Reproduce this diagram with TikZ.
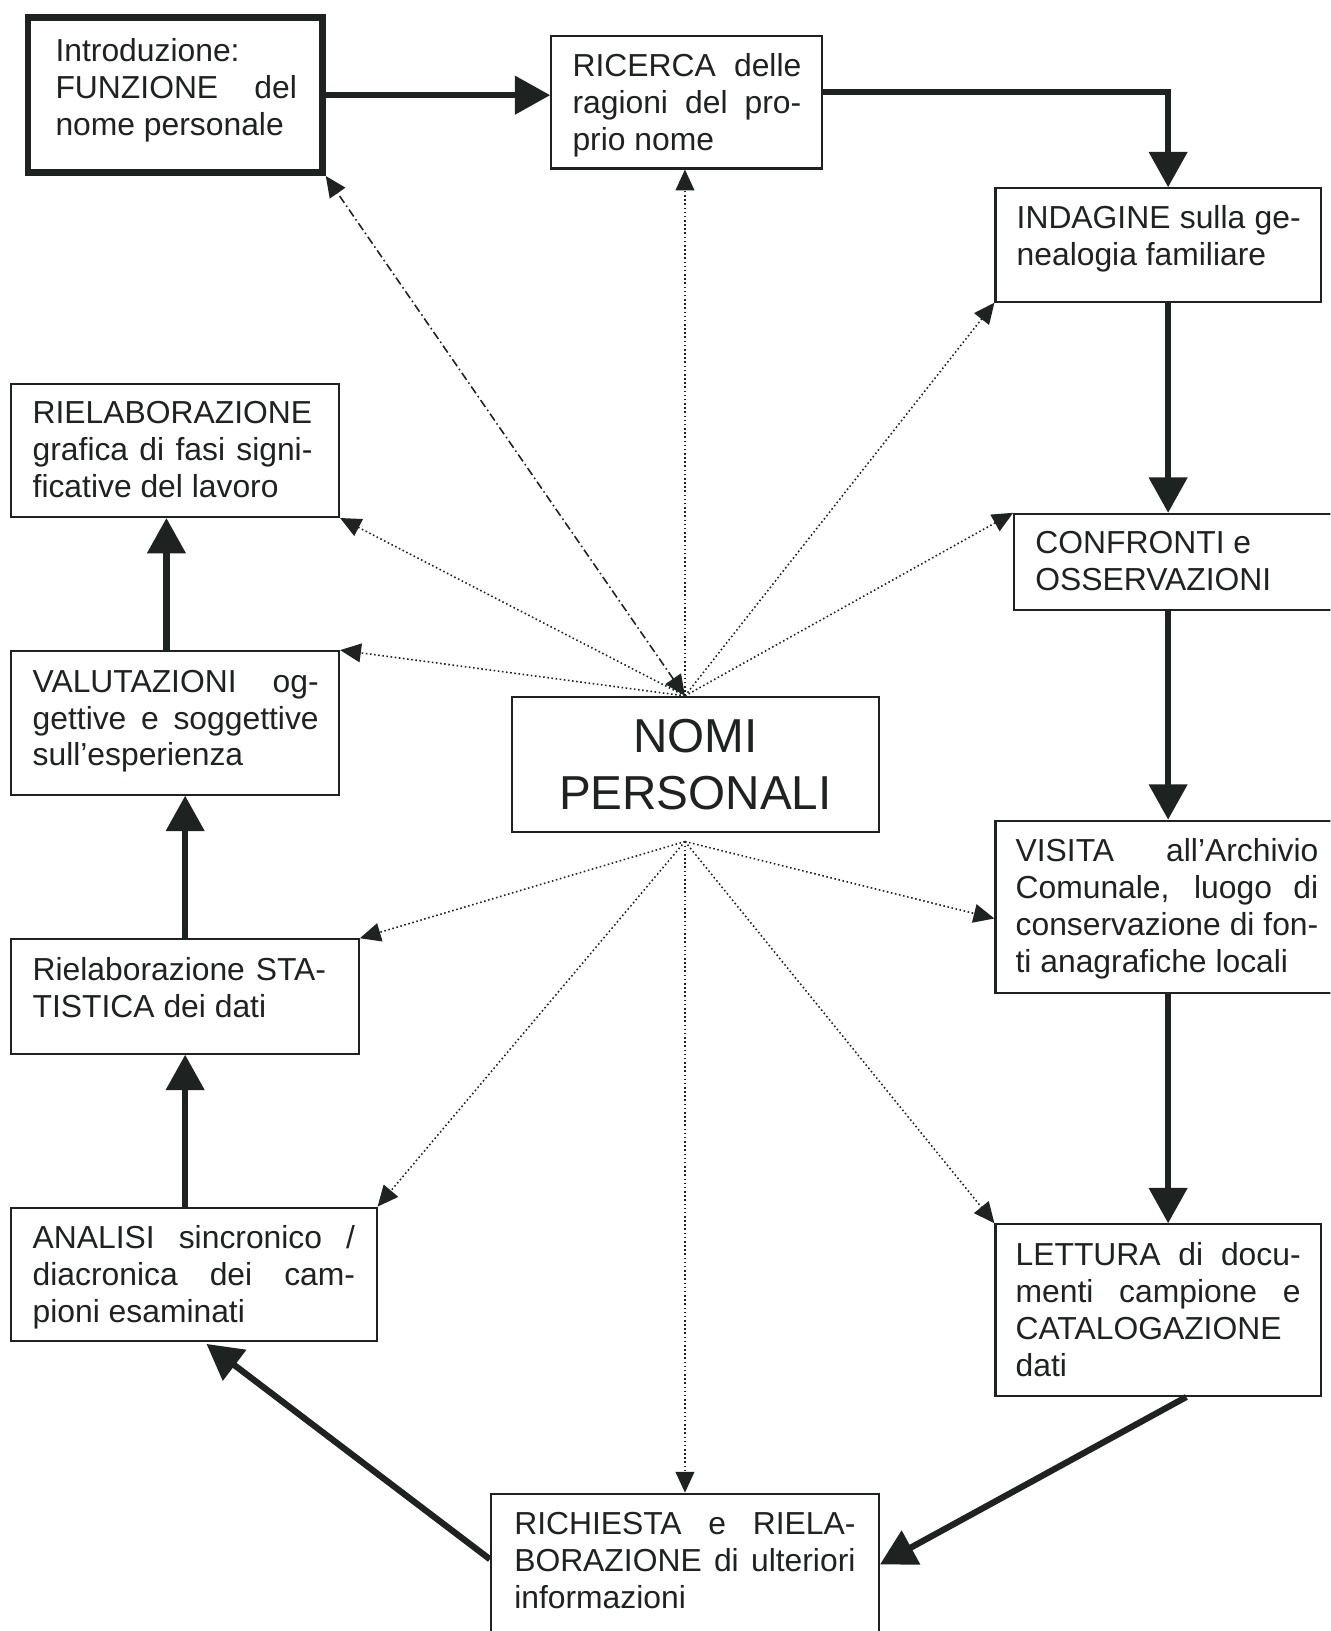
\documentclass[tikz,border=0pt]{standalone}
\usepackage{fontspec}
\setmainfont{Liberation Sans}
\usetikzlibrary{arrows.meta,fit,calc}
\definecolor{ink}{RGB}{30,34,33}
\newcommand\firstln{\spaceskip=0pt\xspaceskip=0pt\noindent\rule{0pt}{12pt}}
\newcommand\J[2]{{\spaceskip=0pt\xspaceskip=0pt\makebox[#1][s]{#2}}}
\begin{document}
\begin{tikzpicture}[x=0.5pt,y=-0.5pt,
  box/.style={draw=ink, line width=1pt, inner sep=0pt},
  txt/.style={inner sep=0pt, anchor=north west, align=left, text=ink,
    font=\fontsize{15.3}{17.75}\selectfont},
  heavy/.style={draw=ink, line width=3pt, line join=miter, -{Triangle[length=17pt,width=18pt]}},
  dots/.style={draw=ink, line width=0.75pt, dash pattern=on 0.75pt off 1.25pt, -{Triangle[length=10pt,width=9pt]}},
  dashdot/.style={draw=ink, line width=0.75pt, dash pattern=on 4pt off 1.6pt on 0.75pt off 1.6pt,
    {Triangle[length=10pt,width=9pt]}-{Triangle[length=10pt,width=9pt]}}]
\useasboundingbox (0,0) rectangle (1279,1568);
\fill[white] (0,0) rectangle (1279,1568);
\clip (0,0) rectangle (1279,1568);

% boxes
\node[box, line width=3.2pt, fit={(27,17)(310,166)}] (intro) {};
\node[box, fit={(530,35)(790,162)}] (ricerca) {};
\node[box, fit={(957,181)(1270,290)}] (indagine) {};
\node[box, fit={(975,494)(1300,586)}] (confronti) {};
\node[box, fit={(957,789)(1300,955)}] (visita) {};
\node[box, fit={(957,1177)(1270,1342)}] (lettura) {};
\node[box, fit={(472,1436)(845,1600)}] (richiesta) {};
\node[box, fit={(11,1161)(362,1289)}] (analisi) {};
\node[box, fit={(11,903)(345,1013)}] (stat) {};
\node[box, fit={(11,626)(326,764)}] (valut) {};
\node[box, fit={(11,369)(326,497)}] (rielab) {};
\node[box, fit={(492,670)(845,800)}] (nomi) {};

% texts
\node[inner sep=0pt, align=center, text=ink, font=\fontsize{22.9}{27}\selectfont] (nomi-t) at (nomi.center) {NOMI\\PERSONALI};
\node[txt, text width=116pt] (intro-t) at (53,35) {\firstln Introduzione:\\\J{116pt}{FUNZIONE del}\\nome personale};
\node[txt, text width=110pt] (ricerca-t) at (550,49) {\firstln\J{110pt}{RICERCA delle}\\\J{110pt}{ragioni del pro-}\\prio nome};
\node[txt, text width=136.5pt] (indagine-t) at (977,195) {\firstln\J{136.5pt}{INDAGINE sulla ge-}\\nealogia familiare};
\node[txt, text width=150pt] (confronti-t) at (995,508) {\firstln CONFRONTI e\\OSSERVAZIONI};
\node[txt, text width=145.5pt] (visita-t) at (976,804) {\firstln\J{145.5pt}{VISITA all’Archivio}\\\J{145.5pt}{Comunale, luogo di}\\\J{145.5pt}{conservazione di fon-}\\ti anagrafiche locali};
\node[txt, text width=137pt] (lettura-t) at (976,1192) {\firstln\J{137pt}{LETTURA di docu-}\\\J{137pt}{menti campione e}\\CATALOGAZIONE\\dati};
\node[txt, text width=164pt] (richiesta-t) at (494,1451) {\firstln\J{164pt}{RICHIESTA e RIELA-}\\\J{164pt}{BORAZIONE di ulteriori}\\informazioni};
\node[txt, text width=155pt] (analisi-t) at (31,1176) {\firstln\J{155pt}{ANALISI sincronico /}\\\J{155pt}{diacronica dei cam-}\\pioni esaminati};
\node[txt, text width=141pt] (stat-t) at (31,918) {\firstln\J{141pt}{Rielaborazione STA-}\\TISTICA dei dati};
\node[txt, text width=137.5pt] (valut-t) at (31,641) {\firstln\J{137.5pt}{VALUTAZIONI og-}\\\J{137.5pt}{gettive e soggettive}\\sull’esperienza};
\node[txt, text width=134.5pt] (rielab-t) at (31,383) {\firstln RIELABORAZIONE\\\J{134.5pt}{grafica di fasi signi-}\\ficative del lavoro};

% helper coordinates
\coordinate (ntop) at ($(nomi.north)+(-10,0)$);
\coordinate (nbot) at ($(nomi.south)+(-10,8)$);
\coordinate (spine) at (1123,0);
\coordinate (lspine) at (178,0);
\coordinate (lspine2) at (160,0);

% main flow
\draw[heavy] (intro.east) -- (intro.east -| ricerca.west);
\draw[heavy] ($(ricerca.east)+(0,-10)$) -| (indagine.north -| spine);
\draw[heavy] (indagine.south -| spine) -- (confronti.north -| spine);
\draw[heavy] (confronti.south -| spine) -- (visita.north -| spine);
\draw[heavy] (visita.south -| spine) -- (lettura.north -| spine);
\draw[heavy] ($(lettura.south)+(27,0)$) -- ($(richiesta.north east)+(0,69)$);
\draw[heavy] ($(richiesta.north west)+(0,64)$) -- ($(analisi.south)+(12,2)$);
\draw[heavy] (analisi.north -| lspine) -- (stat.south -| lspine);
\draw[heavy] (stat.north -| lspine) -- (valut.south -| lspine);
\draw[heavy] (valut.north -| lspine2) -- (rielab.south -| lspine2);

% radial links
\draw[dashdot] (ntop) -- (intro.south east);
\draw[dots] (ntop) -- (ntop |- ricerca.south);
\draw[dots] (ntop) -- (rielab.south east);
\draw[dots] (ntop) -- (valut.north east);
\draw[dots] (ntop) -- (indagine.south west);
\draw[dots] (ntop) -- (confronti.north west);
\draw[dots] (nbot) -- ($(visita.west)+(0,11)$);
\draw[dots] (nbot) -- (lettura.north west);
\draw[dots] (nbot) -- (nbot |- richiesta.north);
\draw[dots] (nbot) -- (analisi.north east);
\draw[dots] (nbot) -- (stat.north east);
\end{tikzpicture}
\end{document}
